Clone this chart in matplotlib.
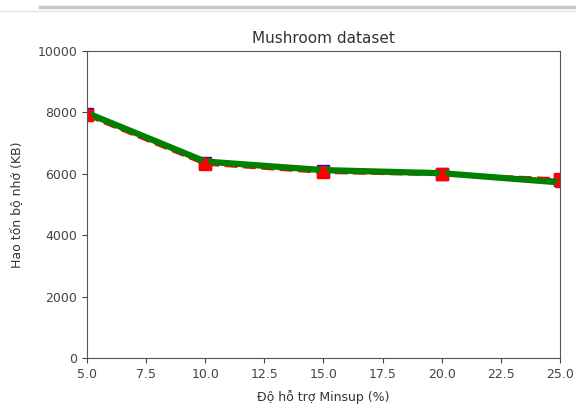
import matplotlib.pyplot as plt
from matplotlib.lines import Line2D

# Minsup (%) and memory usage (KB)
minsup = [5.0, 10.0, 15.0, 20.0, 25.0]
mem_a = [7950, 6350, 6080, 6000, 5800]
mem_b = [7900, 6320, 6050, 5980, 5830]
mem_c = [7980, 6400, 6120, 6020, 5720]

plt.rcParams['text.color'] = '#333333'
plt.rcParams['axes.labelcolor'] = '#333333'
plt.rcParams['xtick.color'] = '#444444'
plt.rcParams['ytick.color'] = '#444444'
plt.rcParams['axes.edgecolor'] = '#555555'

fig = plt.figure(figsize=(5.76, 4.08), dpi=100)
ax = fig.add_axes([0.151, 0.1225, 0.821, 0.7525])

# screenshot toolbar edge at the top
fig.add_artist(Line2D([0.07, 1.0], [0.983, 0.983], color='#c8c8c8', linewidth=2.5))
fig.add_artist(Line2D([0.0, 1.0], [0.972, 0.972], color='#e4e4e4', linewidth=1))

ax.plot(minsup, mem_a, 'bs-', markersize=9, linewidth=1.5)
ax.plot(minsup, mem_b, 'rs--', markersize=8, linewidth=2.5)
ax.plot(minsup, mem_c, color='green', linewidth=4.5, marker='^',
        markerfacecolor='red', markeredgecolor='red', markersize=7)

ax.set_xlim(5.0, 25.0)
ax.set_ylim(0, 10000)
ax.set_xticks([5.0, 7.5, 10.0, 12.5, 15.0, 17.5, 20.0, 22.5, 25.0])
ax.tick_params(labelsize=9)
ax.set_title("Mushroom dataset", fontsize=11)
ax.set_xlabel("Độ hỗ trợ Minsup (%)", fontsize=9, labelpad=7)
ax.set_ylabel("Hao tốn bộ nhớ (KB)", fontsize=9, labelpad=10)

fig.savefig("out.png", dpi=100)
